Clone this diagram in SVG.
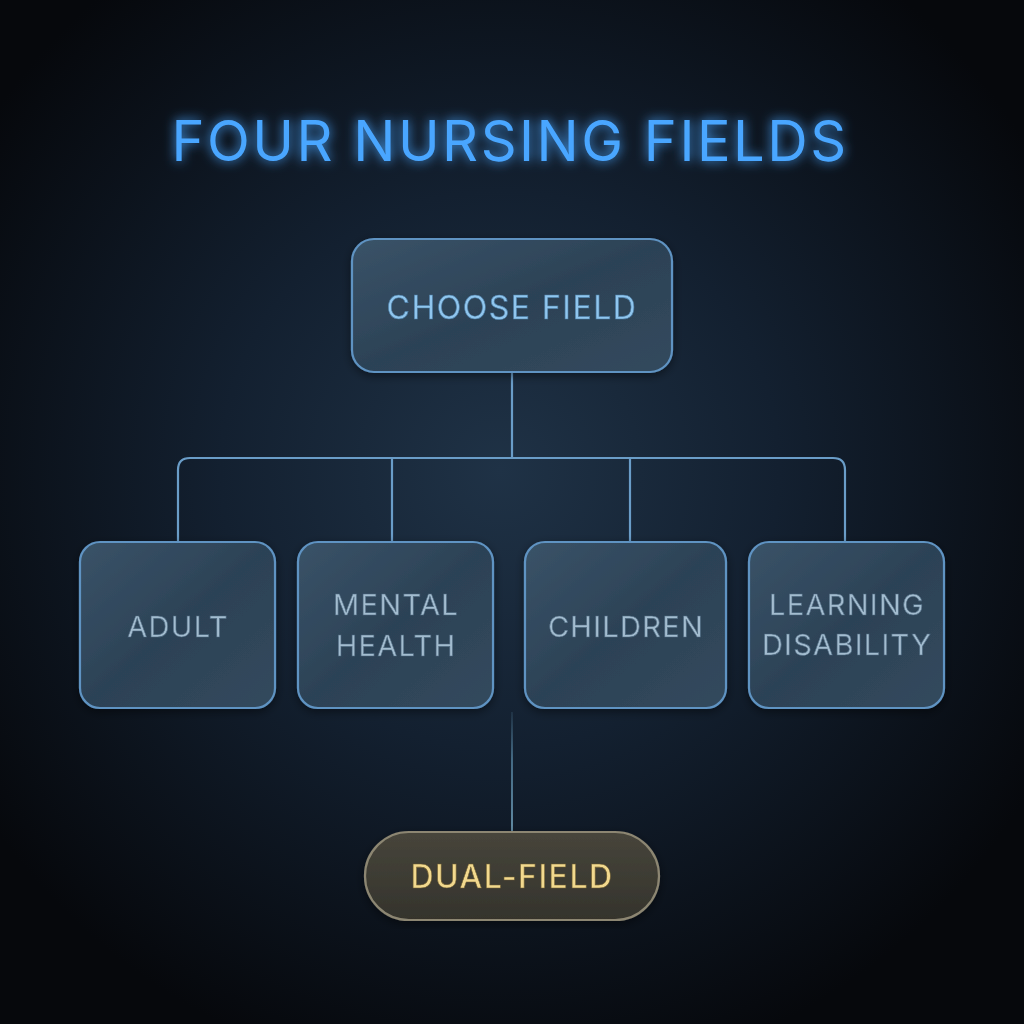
<svg xmlns="http://www.w3.org/2000/svg" width="1024" height="1024" viewBox="0 0 1024 1024">
<defs>
  <radialGradient id="bg" cx="500" cy="470" r="620" gradientUnits="userSpaceOnUse">
    <stop offset="0" stop-color="#1f3246"/>
    <stop offset="0.45" stop-color="#132030"/>
    <stop offset="1" stop-color="#06080c"/>
  </radialGradient>
  <linearGradient id="boxfill" x1="0" y1="0" x2="1" y2="1">
    <stop offset="0" stop-color="#3a5368"/>
    <stop offset="0.5" stop-color="#2c4256"/>
    <stop offset="1" stop-color="#33495d"/>
  </linearGradient>
  <linearGradient id="pillfill" x1="0" y1="0" x2="0" y2="1">
    <stop offset="0" stop-color="#47453b"/>
    <stop offset="1" stop-color="#34332c"/>
  </linearGradient>
  <linearGradient id="fade" x1="0" y1="712" x2="0" y2="832" gradientUnits="userSpaceOnUse">
    <stop offset="0" stop-color="#5a8aa8" stop-opacity="0.15"/>
    <stop offset="0.4" stop-color="#5a8aa8" stop-opacity="0.7"/>
    <stop offset="1" stop-color="#6a96b0" stop-opacity="0.9"/>
  </linearGradient>
  <filter id="glow" x="-20%" y="-50%" width="140%" height="200%">
    <feGaussianBlur in="SourceGraphic" stdDeviation="6" result="b"/>
    <feMerge><feMergeNode in="b"/><feMergeNode in="SourceGraphic"/></feMerge>
  </filter>
  <filter id="soft" x="-10%" y="-10%" width="120%" height="120%">
    <feGaussianBlur in="SourceAlpha" stdDeviation="5" result="s"/>
    <feOffset dy="3" result="o"/>
    <feFlood flood-color="#000" flood-opacity="0.45"/>
    <feComposite in2="o" operator="in" result="sh"/>
    <feMerge><feMergeNode in="sh"/><feMergeNode in="SourceGraphic"/></feMerge>
  </filter>
</defs>
<style>
  .box { fill: url(#boxfill); stroke: #5f93c2; stroke-width: 2.2; }
  .lbl { font-family: Inter, "Liberation Sans", sans-serif; font-size: 29px; fill: #a3bccf; stroke: #4f6a80; stroke-width: 0.6; text-anchor: middle; letter-spacing: 1.3px; }
  .conn { fill: none; stroke: #6a9dc8; stroke-width: 2.2; }
</style>
<rect width="1024" height="1024" fill="url(#bg)"/>

<g id="title" filter="url(#glow)">
  <text x="510" y="161" text-anchor="middle" font-family="Inter, 'Liberation Sans', sans-serif" font-size="56" font-weight="400" letter-spacing="2.5" fill="#4aa6ff">FOUR NURSING FIELDS</text>
</g>

<g id="connectors">
  <path class="conn" d="M512 372 V458"/>
  <path class="conn" d="M178 542 V470 Q178 458 190 458 H833 Q845 458 845 470 V542"/>
  <path class="conn" d="M392 458 V542"/>
  <path class="conn" d="M630 458 V542"/>
  <path d="M512 712 V832" fill="none" stroke="url(#fade)" stroke-width="2"/>
</g>

<g id="choose-field" filter="url(#soft)">
  <rect class="box" x="352" y="239" width="320" height="133" rx="22"/>
  <text x="512" y="319" text-anchor="middle" font-family="Inter, 'Liberation Sans', sans-serif" font-size="32" letter-spacing="1.5" fill="#90c6ee" stroke="#4d7ea6" stroke-width="0.6">CHOOSE FIELD</text>
</g>

<g id="adult" filter="url(#soft)">
  <rect class="box" x="80" y="542" width="195" height="166" rx="20"/>
  <text class="lbl" x="178" y="637">ADULT</text>
</g>

<g id="mental-health" filter="url(#soft)">
  <rect class="box" x="298" y="542" width="195" height="166" rx="20"/>
  <text class="lbl" x="396" y="615">MENTAL</text>
  <text class="lbl" x="396" y="656">HEALTH</text>
</g>

<g id="children" filter="url(#soft)">
  <rect class="box" x="525" y="542" width="201" height="166" rx="20"/>
  <text class="lbl" x="626" y="637">CHILDREN</text>
</g>

<g id="learning-disability" filter="url(#soft)">
  <rect class="box" x="749" y="542" width="195" height="166" rx="20"/>
  <text class="lbl" x="847" y="615">LEARNING</text>
  <text class="lbl" x="847" y="655">DISABILITY</text>
</g>

<g id="dual-field" filter="url(#soft)">
  <rect x="365" y="832" width="294" height="88" rx="44" fill="url(#pillfill)" stroke="#8c8672" stroke-width="2.2"/>
  <text x="512" y="888" text-anchor="middle" font-family="Inter, 'Liberation Sans', sans-serif" font-size="32" font-weight="500" letter-spacing="1.5" fill="#f2d98e" stroke="#6e5d30" stroke-width="0.6">DUAL-FIELD</text>
</g>
</svg>
